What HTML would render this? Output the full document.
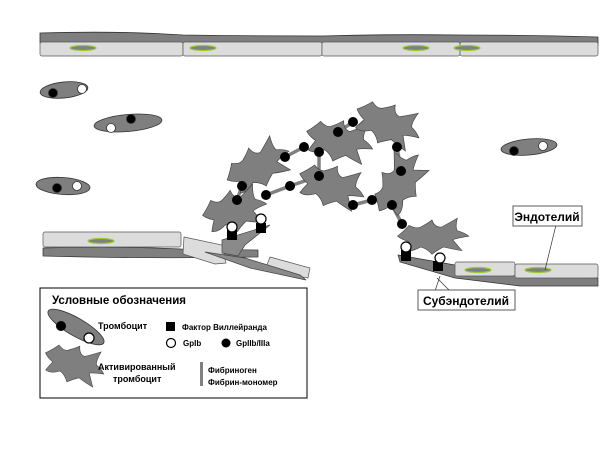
<!DOCTYPE html>
<html><head><meta charset="utf-8"><style>
html,body{margin:0;padding:0;background:#fff;}
svg{display:block;font-family:"Liberation Sans",sans-serif;}
</style></head><body>
<svg width="614" height="461" viewBox="0 0 614 461" xmlns="http://www.w3.org/2000/svg">
<defs>
<path id="act" d="M-30,-2 Q-24,-8 -20,-14 Q-14,-10 -10,-12 Q-4,-16 0,-20 Q2,-12 8,-12 Q14,-16 22,-22 Q20,-12 22,-8 Q28,-6 32,-2 Q22,0 18,2 Q22,8 26,14 Q16,12 10,10 Q4,14 0,18 Q-4,12 -10,10 Q-18,16 -24,14 Q-22,8 -20,4 Q-26,2 -30,-2 Z" fill="#7f7f7f" stroke="#444" stroke-width="0.6"/>
</defs>
<path d="M40,33 Q110,31 165,34 L183,35 Q250,36 322,36 Q390,34 460,35 Q530,35 598,37 L598,45 L40,43 Z" fill="#7f7f7f" stroke="#333" stroke-width="0.8"/>
<rect x="40" y="42" width="143" height="14" rx="2" fill="#dcdcdc" stroke="#555" stroke-width="0.7"/>
<rect x="183" y="42" width="139" height="14" rx="2" fill="#dcdcdc" stroke="#555" stroke-width="0.7"/>
<rect x="322" y="42" width="138" height="14" rx="2" fill="#dcdcdc" stroke="#555" stroke-width="0.7"/>
<rect x="460" y="42" width="138" height="14" rx="2" fill="#dcdcdc" stroke="#555" stroke-width="0.7"/>
<g fill="#7f7f7f" stroke="#9acd32" stroke-width="1.2">
<ellipse cx="83" cy="48" rx="13" ry="2.5"/><ellipse cx="203" cy="48" rx="13" ry="2.5"/>
<ellipse cx="416" cy="48" rx="13" ry="2.5"/><ellipse cx="467" cy="48" rx="13" ry="2.5"/>
</g>
<g stroke="#333" stroke-width="0.8">
<ellipse cx="64" cy="90" rx="24" ry="8" transform="rotate(-6 64 90)" fill="#7f7f7f"/>
<circle cx="53" cy="93" r="4.5" fill="#000"/><circle cx="82" cy="89" r="4.5" fill="#fff"/>
<ellipse cx="128" cy="123" rx="34" ry="8.5" transform="rotate(-5 128 123)" fill="#7f7f7f"/>
<circle cx="111" cy="128" r="4.5" fill="#fff"/><circle cx="131" cy="119" r="4.5" fill="#000"/>
<ellipse cx="63" cy="186" rx="27" ry="8.5" transform="rotate(4 63 186)" fill="#7f7f7f"/>
<circle cx="57" cy="188" r="4.5" fill="#000"/><circle cx="77" cy="186" r="4.5" fill="#fff"/>
<ellipse cx="529" cy="147" rx="28" ry="8" transform="rotate(-5 529 147)" fill="#7f7f7f"/>
<circle cx="514" cy="151" r="4.5" fill="#000"/><circle cx="543" cy="146" r="4.5" fill="#fff"/>
</g>
<path d="M43,248 Q120,246 181,249 L258,250 L258,257 Q150,259 43,256 Z" fill="#7f7f7f" stroke="#333" stroke-width="0.7"/>
<rect x="43" y="232" width="138" height="15" rx="2" fill="#dcdcdc" stroke="#555" stroke-width="0.7"/>
<ellipse cx="101" cy="241" rx="13" ry="2.5" fill="#7f7f7f" stroke="#9acd32" stroke-width="1.2"/>
<path d="M184,237 L222,245 L226,263 L215,264 L183,254 Z" fill="#dcdcdc" stroke="#555" stroke-width="0.7"/>
<path d="M270,257 L310,268 L308,278 L265,270 Z" fill="#dcdcdc" stroke="#555" stroke-width="0.7"/>
<path d="M205,252 L245,258 L300,275 L306,280 L250,268 Z" fill="#8a8a8a" stroke="#444" stroke-width="0.7"/>
<path d="M222,240 L270,225 L245,245 L238,256 L222,253 Z" fill="#8a8a8a" stroke="#444" stroke-width="0.7"/>
<path d="M398,255 L455,265 L475,272 L520,276 L598,278 L598,286 L520,286 L455,278 L400,262 Z" fill="#7f7f7f" stroke="#333" stroke-width="0.7"/>
<rect x="455" y="262" width="60" height="14" rx="2" fill="#dcdcdc" stroke="#555" stroke-width="0.7"/>
<rect x="515" y="264" width="83" height="14" rx="2" fill="#dcdcdc" stroke="#555" stroke-width="0.7"/>
<ellipse cx="478" cy="270" rx="13" ry="2.5" fill="#7f7f7f" stroke="#9acd32" stroke-width="1.2"/>
<ellipse cx="538" cy="270" rx="13" ry="2.5" fill="#7f7f7f" stroke="#9acd32" stroke-width="1.2"/>
<g stroke="#808080" stroke-width="3.5" fill="none">
<polyline points="237,200 242,186"/><polyline points="266,195 290,186 319,176 319,152"/>
<polyline points="285,157 304,147"/><polyline points="338,132 353,122"/>
<polyline points="397,147 401,171"/><polyline points="353,205 372,200"/>
<polyline points="392,205 402,224"/>
</g>
<use href="#act" transform="translate(258,168) rotate(-25) scale(1.1)"/>
<use href="#act" transform="translate(338,142) rotate(15) scale(1.1)"/>
<use href="#act" transform="translate(386,125) rotate(25) scale(1.1)"/>
<use href="#act" transform="translate(330,187) rotate(20) scale(1.1)"/>
<use href="#act" transform="translate(400,185) rotate(-55) scale(1.1)"/>
<use href="#act" transform="translate(234,212) rotate(-10) scale(1.05,1.1)"/>
<use href="#act" transform="translate(432,238) rotate(0) scale(1.15,0.9)"/>
<g fill="#000">
<circle cx="353" cy="122" r="5"/><circle cx="338" cy="132" r="5"/><circle cx="304" cy="147" r="5"/>
<circle cx="319" cy="152" r="5"/><circle cx="285" cy="157" r="5"/><circle cx="242" cy="186" r="5"/>
<circle cx="237" cy="200" r="5"/><circle cx="266" cy="195" r="5"/><circle cx="290" cy="186" r="5"/>
<circle cx="319" cy="176" r="5"/><circle cx="397" cy="147" r="5"/><circle cx="401" cy="171" r="5"/>
<circle cx="372" cy="200" r="5"/><circle cx="353" cy="205" r="5"/><circle cx="392" cy="205" r="5"/>
<circle cx="402" cy="224" r="5"/>
<rect x="227" y="230" width="10" height="10"/><rect x="256" y="223" width="10" height="10"/>
<rect x="401" y="250" width="10" height="11"/><rect x="433" y="261" width="10" height="10"/>
</g>
<g fill="#fff" stroke="#000" stroke-width="1.2">
<circle cx="232" cy="227" r="5"/><circle cx="261" cy="219" r="5"/>
<circle cx="406" cy="247" r="5"/><circle cx="440" cy="258" r="5"/>
</g>
<line x1="556" y1="225" x2="545" y2="270" stroke="#333" stroke-width="0.7"/>
<rect x="513" y="206" width="69" height="20" fill="#fff" stroke="#333" stroke-width="0.8"/>
<text x="547" y="221" font-size="12" font-weight="bold" text-anchor="middle">Эндотелий</text>
<line x1="435" y1="291" x2="440" y2="276" stroke="#333" stroke-width="0.7"/>
<line x1="450" y1="291" x2="437" y2="278" stroke="#333" stroke-width="0.7"/>
<rect x="418" y="290" width="97" height="20" fill="#fff" stroke="#333" stroke-width="0.8"/>
<text x="466" y="305" font-size="12" font-weight="bold" text-anchor="middle">Субэндотелий</text>
<rect x="40" y="288" width="267" height="110" fill="#fff" stroke="#000" stroke-width="1"/>
<text x="52" y="304" font-size="11.5" font-weight="bold">Условные обозначения</text>
<ellipse cx="76" cy="327" rx="32" ry="9" transform="rotate(30 76 327)" fill="#7f7f7f" stroke="#333" stroke-width="0.8"/>
<circle cx="61" cy="326" r="5" fill="#000"/><circle cx="89" cy="338" r="5" fill="#fff" stroke="#000" stroke-width="1.2"/>
<text x="98" y="329" font-size="9" font-weight="bold">Тромбоцит</text>
<use href="#act" transform="translate(73,365) rotate(20) scale(1.0)"/>
<text x="98" y="370" font-size="9" font-weight="bold">Активированный</text>
<text x="113" y="382" font-size="9" font-weight="bold">тромбоцит</text>
<rect x="166" y="322" width="9" height="9" fill="#000"/>
<text x="182" y="330" font-size="8" font-weight="bold">Фактор Виллейранда</text>
<circle cx="171" cy="343" r="4.5" fill="#fff" stroke="#000" stroke-width="1.2"/>
<text x="183" y="346" font-size="8" font-weight="bold">GpIb</text>
<circle cx="226" cy="343" r="4.5" fill="#000"/>
<text x="236" y="346" font-size="8" font-weight="bold">GpIIb/IIIa</text>
<rect x="200" y="362" width="3" height="24" fill="#808080"/>
<text x="208" y="373" font-size="8" font-weight="bold">Фибриноген</text>
<text x="208" y="385" font-size="8" font-weight="bold">Фибрин-мономер</text>
</svg>
</body></html>
